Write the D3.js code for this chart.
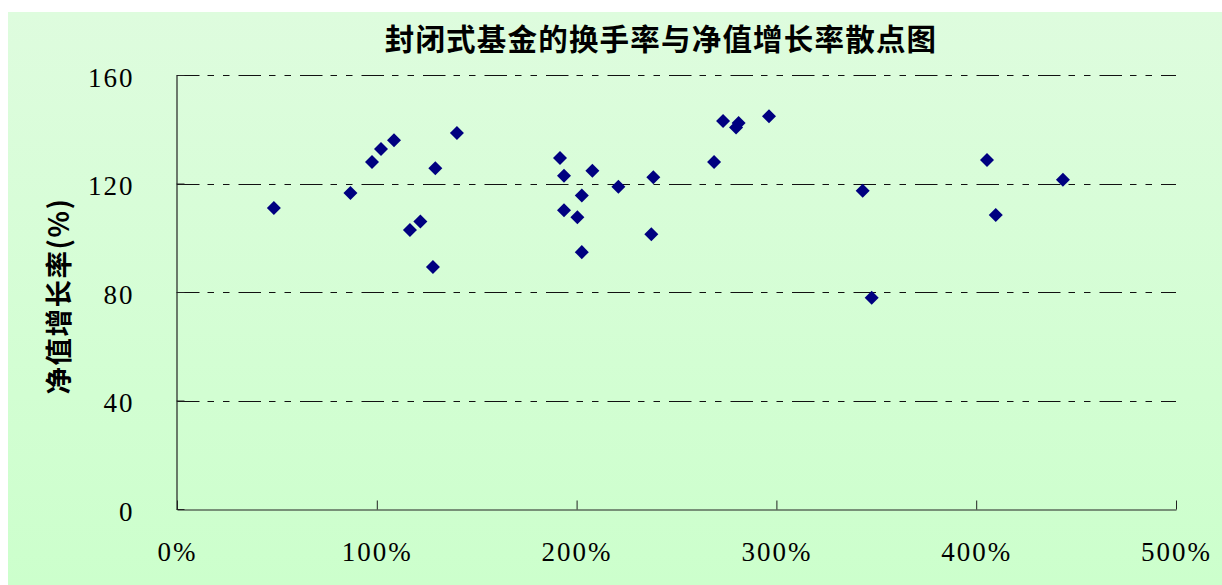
<!DOCTYPE html>
<html>
<head>
<meta charset="utf-8">
<script src="https://cdn.jsdelivr.net/npm/d3@7/dist/d3.min.js"></script>
<style>
  html, body { margin: 0; padding: 0; background: #ffffff; }
  svg { display: block; }
  .num { font-family: "Liberation Serif", "DejaVu Serif", serif; font-size: 27px; letter-spacing: 2px; fill: #000; }
  .cjk { font-family: "Noto Sans CJK SC", "Noto Sans", sans-serif; font-weight: 700; fill: #000; }
</style>
</head>
<body>
<svg id="chart" width="1222" height="585"></svg>
<script>
// Turnover rate (%) and NAV growth rate (%) for each closed-end fund
const turnover = [
  48.5, 86.8, 97.6, 102.1, 108.6, 116.6, 121.8, 128.1, 129.3, 140.1,
  191.7, 193.7, 207.9, 220.9, 238.4, 202.6, 193.7, 200.4, 237.4, 202.6,
  268.8, 273.3, 281.1, 279.8, 296.3,
  343.2, 405.4, 409.8, 443.4, 347.7
];
const navGrowth = [
  111.0, 116.5, 127.9, 132.7, 135.9, 102.9, 106.0, 89.2, 125.6, 138.6,
  129.4, 122.9, 124.7, 118.8, 122.3, 115.6, 110.1, 107.6, 101.3, 94.7,
  127.9, 143.0, 142.3, 140.6, 144.8,
  117.3, 128.7, 108.4, 121.4, 77.9
];
const xTicks = [0, 100, 200, 300, 400, 500];
const yTicks = [0, 40, 80, 120, 160];

const titleText = "封闭式基金的换手率与净值增长率散点图";
const yLabelText = "净值增长率(%)";

const svg = d3.select("#chart");

// Soft green backdrop
const defs = svg.append("defs");
const grad = defs.append("linearGradient")
  .attr("id", "bg").attr("x1", 0).attr("y1", 0).attr("x2", 0).attr("y2", 1);
grad.append("stop").attr("offset", "0%").attr("stop-color", "#defcde");
grad.append("stop").attr("offset", "100%").attr("stop-color", "#ccffcc");
svg.append("rect")
  .attr("x", 8).attr("y", 12).attr("width", 1214).attr("height", 573)
  .attr("fill", "url(#bg)");

const plot = { left: 177, right: 1176, top: 75, bottom: 509 };
const x = d3.scaleLinear().domain([0, 500]).range([plot.left, plot.right]);
const y = d3.scaleLinear().domain([0, 160]).range([plot.bottom, plot.top]);

// Dash-dot horizontal gridlines
svg.append("g")
  .selectAll("line")
  .data(yTicks.filter(d => d > 0))
  .join("line")
  .attr("x1", plot.left).attr("x2", plot.right)
  .attr("y1", d => Math.round(y(d)) + 0.5).attr("y2", d => Math.round(y(d)) + 0.5)
  .attr("stroke", "#111")
  .attr("stroke-width", 1.2)
  .attr("stroke-dasharray", "22.5,8,6.5,9,6.5,9");

// Axes with inward ticks
const xAxis = d3.axisBottom(x).tickValues(xTicks).tickSize(-9).tickSizeOuter(0)
  .tickFormat(d => d + "%");
const gx = svg.append("g")
  .attr("transform", `translate(0,${plot.bottom + 0.5})`)
  .call(xAxis)
  .attr("font-family", null).attr("font-size", null);
gx.select(".domain").attr("stroke", "#222").attr("stroke-width", 1.2);
gx.selectAll(".tick line").attr("stroke", "#222");
gx.selectAll(".tick text")
  .attr("class", "num").attr("fill", null)
  .attr("y", 42).attr("dy", "0.35em").attr("dx", 0);

const yAxis = d3.axisLeft(y).tickValues(yTicks).tickSize(-8).tickSizeOuter(0);
const gy = svg.append("g")
  .attr("transform", `translate(${plot.left - 0.5},0)`)
  .call(yAxis)
  .attr("font-family", null).attr("font-size", null);
gy.select(".domain").attr("stroke", "#222").attr("stroke-width", 1.2);
gy.selectAll(".tick line").attr("stroke", "#222");
gy.selectAll(".tick text")
  .attr("class", "num").attr("fill", null)
  .attr("x", -42).attr("dy", "0.42em");

// Diamond markers
const diamond = d3.symbol().type(d3.symbolDiamond2).size(125);
svg.append("g")
  .selectAll("path")
  .data(d3.range(turnover.length))
  .join("path")
  .attr("d", diamond)
  .attr("transform", i => `translate(${x(turnover[i])},${y(navGrowth[i])})`)
  .attr("fill", "#000080");

// Title and axis label
svg.append("text")
  .attr("class", "cjk")
  .attr("x", 661).attr("y", 37)
  .attr("text-anchor", "middle").attr("dominant-baseline", "central")
  .attr("font-size", 29.5).attr("letter-spacing", 1.2)
  .text(titleText);

svg.append("text")
  .attr("class", "cjk")
  .attr("transform", "translate(57,296) rotate(-90)")
  .attr("text-anchor", "middle").attr("dominant-baseline", "central")
  .attr("font-size", 27.5).attr("letter-spacing", 1.5)
  .text(yLabelText);
</script>
</body>
</html>
